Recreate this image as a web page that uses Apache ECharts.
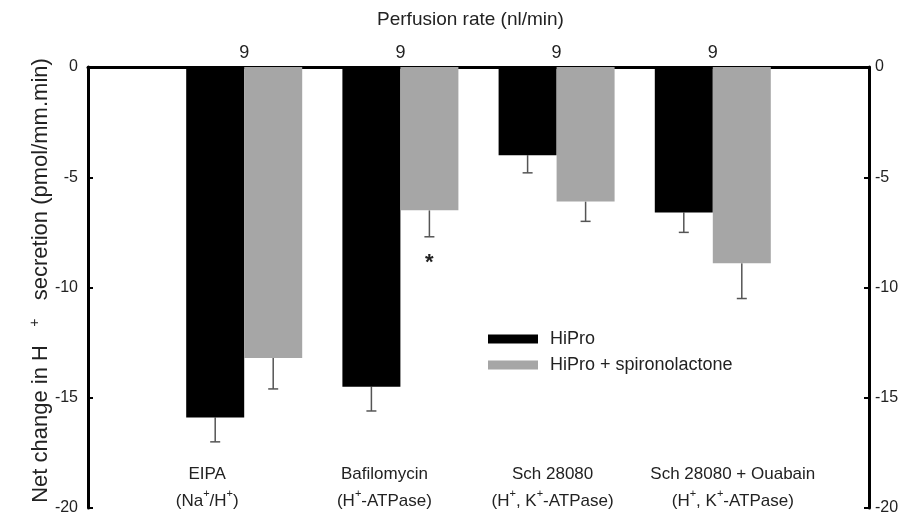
<!DOCTYPE html>
<html>
<head>
<meta charset="utf-8">
<script src="https://cdn.jsdelivr.net/npm/echarts@6/dist/echarts.min.js"></script>
<style>
html, body { margin: 0; padding: 0; background: #fff; }
#chart { width: 901px; height: 514px; }
</style>
</head>
<body>
<div id="chart"></div>
<script>
// treatments (bottom labels), perfusion rate on top
var categories = ['EIPA', 'Bafilomycin', 'Sch 28080', 'Sch 28080 + Ouabain'];
var subLabels = ['(Na{s|+}/H{s|+})', '(H{s|+}-ATPase)', '(H{s|+}, K{s|+}-ATPase)', '(H{s|+}, K{s|+}-ATPase)'];
var perfusionRate = [9, 9, 9, 9];

var hipro = [-15.9, -14.5, -4.0, -6.6];
var hiproErr = [1.1, 1.1, 0.8, 0.9];
var spiro = [-13.2, -6.5, -6.1, -8.9];
var spiroErr = [1.4, 1.2, 0.9, 1.6];
var spiroSig = [false, true, false, false];

// nudge of bottom labels so they sit like in the figure
var labelPad = [[0, 74, 0, 0], [0, 32, 0, 0], [0, 8, 0, 0], [0, 0, 0, 40]];

var fontFamily = 'Liberation Sans, Arial, sans-serif';
var textColor = '#222';
var barW = 58;

var bottomData = [''];
var topData = [''];
for (var i = 0; i < categories.length; i++) {
    bottomData.push({
        value: categories[i] + '\n' + subLabels[i],
        textStyle: { padding: labelPad[i] }
    });
    topData.push(String(perfusionRate[i]));
}
bottomData.push('');
topData.push('');

function pairs(arr) {
    return arr.map(function (v, i) { return [i + 1, v]; });
}

function errSeries(values, errs, side, sigs) {
    return {
        type: 'custom',
        xAxisIndex: 0,
        yAxisIndex: 0,
        z: 1,
        silent: true,
        data: values.map(function (v, i) {
            return [i + 1, v, errs[i], sigs && sigs[i] ? 1 : 0];
        }),
        renderItem: function (params, api) {
            var top = api.coord([api.value(0), api.value(1)]);
            var low = api.coord([api.value(0), api.value(1) - api.value(2)]);
            var cx = top[0] + side * barW / 2;
            var style = { stroke: '#555', lineWidth: 1.5 };
            var children = [
                { type: 'line', shape: { x1: cx, y1: top[1], x2: cx, y2: low[1] }, style: style },
                { type: 'line', shape: { x1: cx - 5, y1: low[1], x2: cx + 5, y2: low[1] }, style: style }
            ];
            if (api.value(3)) {
                children.push({
                    type: 'text',
                    style: {
                        text: '*', x: cx, y: low[1] + 26,
                        align: 'center', verticalAlign: 'middle',
                        fontSize: 22, fontWeight: 'bold', fontFamily: fontFamily, fill: textColor
                    }
                });
            }
            return { type: 'group', children: children };
        }
    };
}

var yAxisBase = {
    type: 'value',
    min: -20,
    max: 0,
    interval: 5,
    splitLine: { show: false },
    axisLine: { show: true, lineStyle: { color: '#000', width: 3 } },
    axisTick: { show: true, inside: true, length: 5, lineStyle: { color: '#000', width: 2 } },
    axisLabel: { fontSize: 16, fontFamily: fontFamily, color: textColor }
};

var dom = document.getElementById('chart');
var myChart = echarts.init(dom);
var option = {
    animation: false,
    backgroundColor: '#fff',
    grid: { left: 88, right: 32, top: 67, bottom: 6, containLabel: false, outerBoundsMode: 'none' },
    legend: {
        orient: 'vertical',
        left: 483,
        top: 325,
        icon: 'rect',
        itemWidth: 50,
        itemHeight: 9,
        itemGap: 8,
        data: ['HiPro', 'HiPro + spironolactone'],
        textStyle: { fontSize: 18, fontFamily: fontFamily, color: textColor, padding: [0, 0, 0, 7] }
    },
    xAxis: [
        {
            type: 'category',
            position: 'bottom',
            boundaryGap: false,
            data: bottomData,
            axisLine: { show: false },
            axisTick: { show: false },
            splitLine: { show: false },
            axisLabel: {
                interval: 0,
                margin: -47,
                fontSize: 17,
                lineHeight: 27,
                fontFamily: fontFamily,
                color: textColor,
                rich: { s: { fontSize: 11, verticalAlign: 'top', fontFamily: fontFamily, color: textColor } }
            }
        },
        {
            type: 'category',
            position: 'top',
            boundaryGap: false,
            data: topData,
            name: 'Perfusion rate (nl/min)',
            nameLocation: 'middle',
            nameGap: 38,
            nameTextStyle: { fontSize: 19, fontFamily: fontFamily, color: textColor, padding: [0, 16, 0, 0] },
            axisLine: { show: true, lineStyle: { color: '#000', width: 3 } },
            axisTick: { show: false },
            splitLine: { show: false },
            axisLabel: { interval: 0, margin: 5, fontSize: 18, fontFamily: fontFamily, color: textColor }
        }
    ],
    yAxis: [
        Object.assign({}, yAxisBase, {
            position: 'left',
            name: 'Net change in H   {s|+}   secretion (pmol/mm.min)',
            nameLocation: 'middle',
            nameGap: 34,
            nameMoveOverlap: false,
            nameTextStyle: {
                fontSize: 22, fontFamily: fontFamily, color: textColor, lineHeight: 26,
                padding: [0, 0, 0, 14],
                rich: { s: { fontSize: 14, verticalAlign: 'top', fontFamily: fontFamily, color: textColor } }
            },
            axisLabel: Object.assign({}, yAxisBase.axisLabel, { margin: 10 })
        }),
        Object.assign({}, yAxisBase, {
            position: 'right',
            axisLabel: Object.assign({}, yAxisBase.axisLabel, { margin: 6 })
        })
    ],
    series: [
        {
            name: 'HiPro',
            type: 'bar',
            xAxisIndex: 0,
            yAxisIndex: 0,
            barWidth: barW,
            barGap: '0%',
            itemStyle: { color: '#000' },
            z: 2,
            data: pairs(hipro)
        },
        {
            name: 'HiPro + spironolactone',
            type: 'bar',
            xAxisIndex: 0,
            yAxisIndex: 0,
            barWidth: barW,
            barGap: '0%',
            itemStyle: { color: '#a6a6a6' },
            z: 2,
            data: pairs(spiro)
        },
        errSeries(hipro, hiproErr, -1),
        errSeries(spiro, spiroErr, 1, spiroSig)
    ]
};

if (option && typeof option === "object") {
    myChart.setOption(option, true);
}
</script>
</body>
</html>
